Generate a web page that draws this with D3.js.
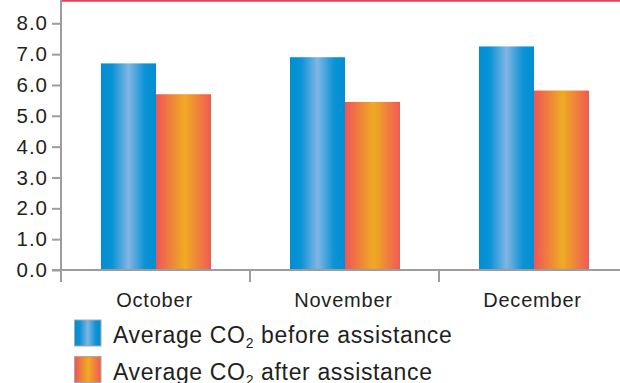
<!DOCTYPE html>
<html>
<head>
<meta charset="utf-8">
<script src="https://cdn.jsdelivr.net/npm/d3@7"></script>
<style>
  html, body { margin: 0; padding: 0; background: #fff; }
  svg { display: block; }
  text { font-family: "Liberation Sans", Arial, Helvetica, sans-serif; fill: #231f20; }
</style>
</head>
<body>
<svg id="chart" width="620" height="383"></svg>
<script>
// Monthly average CO2 readings
const months = ["October", "November", "December"];
const beforeAssistance = [6.7, 6.9, 7.25];
const afterAssistance = [5.7, 5.45, 5.82];
const yTicks = [0, 1, 2, 3, 4, 5, 6, 7, 8];
const seriesNames = ["before assistance", "after assistance"];

const svg = d3.select("#chart");
const W = 620;

const x0 = d3.scaleBand().domain(months).range([61.5, 628.5]).paddingInner(0).paddingOuter(0);
const x1 = d3.scaleBand().domain(["before", "after"]).range([0, 110]);
const y = d3.scaleLinear().domain([0, 8]).range([270, 23.3]);

// gradients that give the bars their rounded, lit look
const defs = svg.append("defs");
const blue = defs.append("linearGradient").attr("id", "gBlue").attr("x1", "0%").attr("x2", "100%");
[[0, "#008fd3"], [0.2, "#0b93d5"], [0.5, "#80b5e3"], [0.8, "#0b93d5"], [1, "#008fd3"]]
  .forEach(([o, c]) => blue.append("stop").attr("offset", o).attr("stop-color", c));
const orange = defs.append("linearGradient").attr("id", "gOrange").attr("x1", "0%").attr("x2", "100%");
[[0, "#ee5558"], [0.52, "#f0ab22"], [1, "#ef5a55"]]
  .forEach(([o, c]) => orange.append("stop").attr("offset", o).attr("stop-color", c));

const fills = { before: "url(#gBlue)", after: "url(#gOrange)" };

// top rule
svg.append("line")
  .attr("x1", 61).attr("x2", W).attr("y1", 0.8).attr("y2", 0.8)
  .attr("stroke", "#e8404f").attr("stroke-width", 1.8);

// bars
const groups = svg.append("g").selectAll("g")
  .data(months.map((m, i) => ({ month: m, vals: [
    { key: "before", v: beforeAssistance[i] },
    { key: "after", v: afterAssistance[i] }
  ] })))
  .join("g")
  .attr("transform", d => `translate(${x0(d.month) + (x0.bandwidth() - 110) / 2},0)`);

groups.selectAll("rect")
  .data(d => d.vals)
  .join("rect")
  .attr("x", d => x1(d.key))
  .attr("width", x1.bandwidth())
  .attr("y", d => y(d.v))
  .attr("height", d => y(0) - y(d.v))
  .attr("fill", d => fills[d.key]);

// y axis
const axisColor = "#9d9d9f";
const yAxis = svg.append("g")
  .attr("transform", "translate(61,0)")
  .call(d3.axisLeft(y).tickValues(yTicks).tickFormat(d3.format(".1f")).tickSize(9).tickPadding(4));
yAxis.select(".domain").remove();
yAxis.selectAll(".tick line").attr("stroke", axisColor).attr("stroke-width", 2);
yAxis.selectAll(".tick text")
  .style("font-size", "20.5px").style("letter-spacing", "1px")
  .attr("fill", "#231f20").attr("font-family", null);
svg.append("line")
  .attr("x1", 61).attr("x2", 61).attr("y1", 0).attr("y2", 282)
  .attr("stroke", axisColor).attr("stroke-width", 2);

// x axis baseline and group dividers
svg.append("line")
  .attr("x1", 52).attr("x2", W).attr("y1", y(0)).attr("y2", y(0))
  .attr("stroke", axisColor).attr("stroke-width", 2);
svg.append("g").selectAll("line")
  .data(months.slice(1))
  .join("line")
  .attr("x1", d => Math.round(x0(d)) - 1).attr("x2", d => Math.round(x0(d)) - 1)
  .attr("y1", y(0)).attr("y2", 282)
  .attr("stroke", axisColor).attr("stroke-width", 2);

// month labels
svg.append("g").selectAll("text")
  .data(months)
  .join("text")
  .attr("x", d => x0(d) + x0.bandwidth() / 2 - 1.5)
  .attr("y", 306.5)
  .attr("text-anchor", "middle")
  .style("font-size", "20px").style("letter-spacing", "0.8px")
  .text(d => d);

// legend
const legend = svg.append("g").selectAll("g")
  .data([{ key: "before", name: seriesNames[0] }, { key: "after", name: seriesNames[1] }])
  .join("g")
  .attr("transform", (d, i) => `translate(74,${319.5 + i * 36.5})`);
legend.append("rect")
  .attr("x", 0.5).attr("y", 0.5).attr("width", 26.5).attr("height", 26)
  .attr("fill", d => fills[d.key]).attr("stroke", "#a9a9ab").attr("stroke-width", 1);
const lt = legend.append("text")
  .attr("x", 39).attr("y", 23.7)
  .style("font-size", "23px").style("letter-spacing", "0.65px");
lt.append("tspan").text("Average CO");
lt.append("tspan").style("font-size", "14px").attr("dy", 5).text("2");
lt.append("tspan").attr("dy", -5).text(d => " " + d.name);
</script>
</body>
</html>
